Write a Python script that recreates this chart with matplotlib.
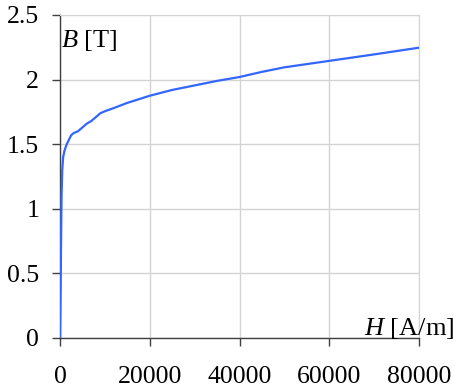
import numpy as np
import matplotlib
matplotlib.use("Agg")
import matplotlib.pyplot as plt

plt.rcParams['font.family'] = ['Liberation Serif', 'DejaVu Serif']
plt.rcParams['mathtext.fontset'] = 'custom'
plt.rcParams['mathtext.rm'] = 'Liberation Serif'
plt.rcParams['mathtext.it'] = 'Liberation Serif:italic'

# B-H magnetisation curve
H = [0, 150, 250, 350, 500, 700, 1000, 1500, 2500, 3000, 4000, 5000, 6000,
     7000, 8000, 9000, 10000, 12000, 15000, 20000, 25000, 30000, 35000,
     40000, 45000, 50000, 55000, 60000, 70000, 80000]
B = [0, 0.4, 0.8, 1.1, 1.3, 1.4, 1.45, 1.5, 1.57, 1.585, 1.60, 1.63, 1.66,
     1.68, 1.71, 1.74, 1.755, 1.78, 1.82, 1.875, 1.92, 1.955, 1.99,
     2.02, 2.06, 2.095, 2.12, 2.145, 2.195, 2.247]

xticks = [0, 20000, 40000, 60000, 80000]
yticks = [0, 0.5, 1, 1.5, 2, 2.5]

fig = plt.figure(figsize=(4.54, 3.9), dpi=100)
ax = fig.add_axes([60/454, 52/390, 359/454, 323/390])

grid_c = '#d4d4d4'
ax.plot(H, B, color='#3366ff', linewidth=1.6, zorder=3)

ax.set_xlim(0, 80000)
ax.set_ylim(0, 2.5)
ax.set_xticks(xticks)
ax.set_yticks(yticks)
ax.set_xticklabels([str(t) for t in xticks])
ax.set_yticklabels(['0', '0.5', '1', '1.5', '2', '2.5'])
ax.grid(True, color=grid_c, linewidth=1.0)
ax.set_axisbelow(True)

for s in ['top', 'right']:
    ax.spines[s].set_color(grid_c)
for s in ['left', 'bottom']:
    ax.spines[s].set_color('#404040')
    ax.spines[s].set_linewidth(1.0)

ax.tick_params(axis='x', direction='out', length=6, width=1, color='#404040',
               pad=14, labelsize=18.5)
ax.tick_params(axis='y', direction='out', length=6, width=1, color='#404040',
               pad=9, labelsize=18.5)
ax.tick_params(top=False, right=False)

ax.text(0.004, 0.92, r'$B$ [T]', transform=ax.transAxes, fontsize=19,
        ha='left', va='center')
ax.text(1.0, 55/390, r'$H$ [A/m]', transform=fig.transFigure,
        fontsize=19, ha='right', va='baseline')

plt.savefig('out.png', dpi=100)
